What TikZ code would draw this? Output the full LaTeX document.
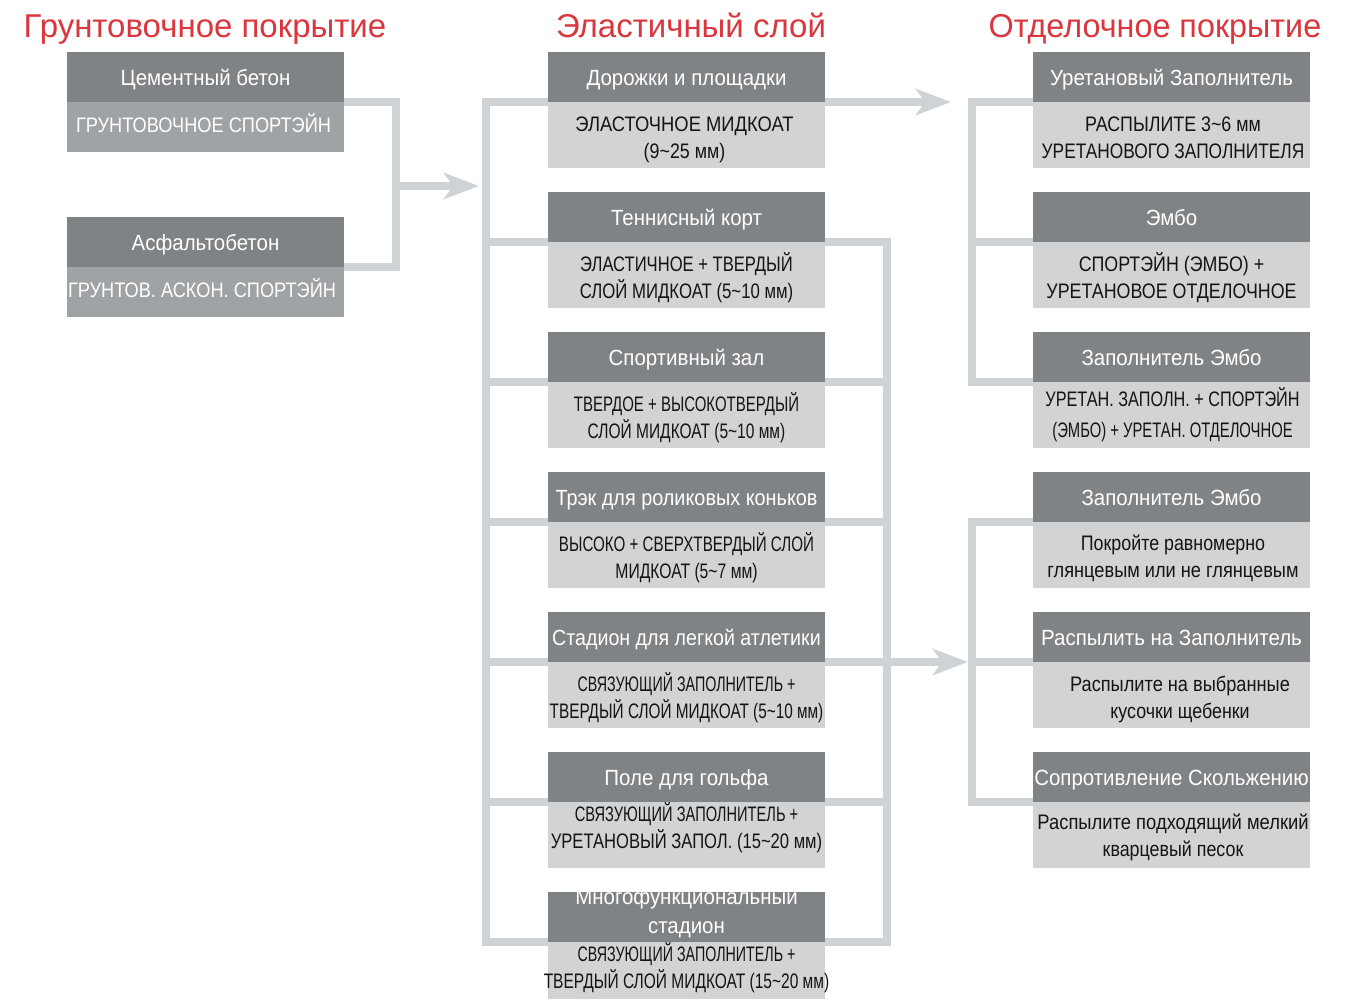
\documentclass[tikz,border=0pt]{standalone}
\usepackage{fontspec}
\usepackage{graphicx}
\setmainfont{Liberation Sans}
\newfontfamily\hdfont[FakeStretch=0.93]{Liberation Sans}
\newfontfamily\bdfont[FakeStretch=0.85]{Liberation Sans}
\usetikzlibrary{arrows.meta}
\definecolor{hdgray}{RGB}{128,131,134}
\definecolor{bodygray}{RGB}{209,211,213}
\definecolor{lbodygray}{RGB}{160,163,166}
\definecolor{lncol}{RGB}{208,211,214}
\definecolor{titlered}{RGB}{218,54,62}
\newcommand\sx[2]{\scalebox{#1}[1]{#2}}
\newcommand\hbx[1]{\makebox[277pt][c]{#1}}
\pgfdeclarelayer{background}
\pgfsetlayers{background,main}
\begin{document}
\begin{tikzpicture}[x=1pt,y=-1pt,
  hd/.style={rectangle, fill=hdgray, text=white, anchor=north west, minimum width=277pt, minimum height=50pt, inner sep=0pt, outer sep=0pt, text height=16pt, text depth=0pt, font=\hdfont\fontsize{22}{27}\selectfont},
  bdy/.style={rectangle, fill=bodygray, anchor=north west, minimum width=277pt, minimum height=66pt, inner sep=0pt, outer sep=0pt},
  lbdy/.style={bdy, fill=lbodygray, minimum height=50pt},
  btxt/.style={align=center, inner sep=0pt, text=black!92, font=\bdfont\fontsize{21}{27}\selectfont},
  ltxt/.style={btxt, text=white, anchor=base},
  ttl/.style={anchor=base, inner sep=0pt, text=titlered, font=\fontsize{33}{40}\selectfont},
  conn/.style={draw=lncol, line width=8pt},
  arr/.style={conn, -{Stealth[length=35pt,width=26pt,inset=9pt]}}
]
\useasboundingbox (0,0) rectangle (1357,999);

% titles
\node[ttl] (t1) at (205,37) {Грунтовочное покрытие};
\node[ttl] (t2) at (691,37) {Эластичный слой};
\node[ttl] (t3) at (1155,37) {\sx{0.98}{Отделочное покрытие}};

% left column
\node[hd] (hl1) at (67,52) {\hbx{Цементный бетон}};
\node[lbdy] (bl1) at (hl1.south west) {};
\node[ltxt] (tl1) at (203.5,132) {\sx{1.02}{ГРУНТОВОЧНОЕ СПОРТЭЙН}};
\node[hd] (hl2) at (67,217) {\hbx{Асфальтобетон}};
\node[lbdy] (bl2) at (hl2.south west) {};
\node[ltxt] (tl2) at (202,297) {\sx{1.02}{ГРУНТОВ. АСКОН. СПОРТЭЙН}};

% middle column
\node[hd] (hm1) at (548,52) {\hbx{Дорожки и площадки}};
\node[bdy] (bm1) at (hm1.south west) {};
\node[btxt] (tm1) at (684.5,140) {\sx{1.03}{ЭЛАСТОЧНОЕ МИДКОАТ}\\(9\textasciitilde25 мм)};
\node[hd] (hm2) at (548,192) {\hbx{Теннисный корт}};
\node[bdy] (bm2) at (hm2.south west) {};
\node[btxt] (tm2) at (686.5,278) {\sx{0.93}{ЭЛАСТИЧНОЕ + ТВЕРДЫЙ}\\\sx{0.94}{СЛОЙ МИДКОАТ (5\textasciitilde10 мм)}};
\node[hd] (hm3) at (548,332) {\hbx{Спортивный зал}};
\node[bdy] (bm3) at (hm3.south west) {};
\node[btxt] (tm3) at (686.5,418) {\sx{0.84}{ТВЕРДОЕ + ВЫСОКОТВЕРДЫЙ}\\\sx{0.87}{СЛОЙ МИДКОАТ (5\textasciitilde10 мм)}};
\node[hd] (hm4) at (548,472) {\hbx{\sx{0.97}{Трэк для роликовых коньков}}};
\node[bdy] (bm4) at (hm4.south west) {};
\node[btxt] (tm4) at (686.5,558) {\sx{0.85}{ВЫСОКО + СВЕРХТВЕРДЫЙ СЛОЙ}\\\sx{0.88}{МИДКОАТ (5\textasciitilde7 мм)}};
\node[hd] (hm5) at (548,612) {\hbx{\sx{0.96}{Стадион для легкой атлетики}}};
\node[bdy] (bm5) at (hm5.south west) {};
\node[btxt] (tm5) at (686.5,698) {\sx{0.8}{СВЯЗУЮЩИЙ ЗАПОЛНИТЕЛЬ +}\\\sx{0.86}{ТВЕРДЫЙ СЛОЙ МИДКОАТ (5\textasciitilde10 мм)}};
\node[hd] (hm6) at (548,752) {\hbx{Поле для гольфа}};
\node[bdy] (bm6) at (hm6.south west) {};
\node[btxt] (tm6) at (686.5,828) {\sx{0.82}{СВЯЗУЮЩИЙ ЗАПОЛНИТЕЛЬ +}\\\sx{0.93}{УРЕТАНОВЫЙ ЗАПОЛ. (15\textasciitilde20 мм)}};
\node[hd] (hm7) at (548,892) {};
\node[align=center, inner sep=0pt, text=white, font=\hdfont\fontsize{22}{29}\selectfont] (thm7) at (686.5,913) {Многофункциональный\\стадион};
\node[bdy, minimum height=57pt] (bm7) at (hm7.south west) {};
\node[btxt] (tm7) at (686.5,968) {\sx{0.8}{СВЯЗУЮЩИЙ ЗАПОЛНИТЕЛЬ +}\\\sx{0.87}{ТВЕРДЫЙ СЛОЙ МИДКОАТ (15\textasciitilde20 мм)}};

% right column
\node[hd] (hr1) at (1033,52) {\hbx{Уретановый Заполнитель}};
\node[bdy] (br1) at (hr1.south west) {};
\node[btxt] (tr1) at (1173,138) {РАСПЫЛИТЕ 3\textasciitilde6 мм\\\sx{0.97}{УРЕТАНОВОГО ЗАПОЛНИТЕЛЯ}};
\node[hd] (hr2) at (1033,192) {\hbx{Эмбо}};
\node[bdy] (br2) at (hr2.south west) {};
\node[btxt] (tr2) at (1171.5,278) {СПОРТЭЙН (ЭМБО) +\\УРЕТАНОВОЕ ОТДЕЛОЧНОЕ};
\node[hd] (hr3) at (1033,332) {\hbx{Заполнитель Эмбо}};
\node[bdy] (br3) at (hr3.south west) {};
\node[btxt, font=\bdfont\fontsize{21}{31}\selectfont] (tr3) at (1172.5,415) {\sx{0.91}{УРЕТАН. ЗАПОЛН. + СПОРТЭЙН}\\\sx{0.83}{(ЭМБО) + УРЕТАН. ОТДЕЛОЧНОЕ}};
\node[hd] (hr4) at (1033,472) {\hbx{Заполнитель Эмбо}};
\node[bdy] (br4) at (hr4.south west) {};
\node[btxt] (tr4) at (1173,558) {Покройте равномерно\\\sx{1.02}{глянцевым или не глянцевым}};
\node[hd] (hr5) at (1033,612) {\hbx{Распылить на Заполнитель}};
\node[bdy] (br5) at (hr5.south west) {};
\node[btxt] (tr5) at (1180,699) {\sx{1.02}{Распылите на выбранные}\\кусочки щебенки};
\node[hd] (hr6) at (1033,752) {\hbx{Сопротивление Скольжению}};
\node[bdy] (br6) at (hr6.south west) {};
\node[btxt] (tr6) at (1173,837) {\sx{1.03}{Распылите подходящий мелкий}\\кварцевый песок};

% connectors
\begin{pgfonlayer}{background}
\fill[white] (0,0) rectangle (1357,999);
\coordinate (lj) at (396,186);
\coordinate (mtip) at (479,186);
\draw[conn] (hl1.south east) -| (lj) |- (hl2.south east);
\draw[arr] (lj) -- (mtip);

\coordinate (mlb) at (486,942);
\draw[conn] (hm1.south west) -| (mlb) -- (hm7.south west);
\foreach \i in {2,...,6} \draw[conn] (hm\i.south west) -- (hm\i.south west -| mlb);
\coordinate (mrb) at (887,942);
\draw[conn] (hm2.south east) -| (mrb) -- (hm7.south east);
\foreach \i in {3,...,6} \draw[conn] (hm\i.south east) -- (hm\i.south east -| mrb);
\coordinate (rtipa) at (951,102);
\coordinate (rtipb) at (968,662);
\draw[arr] (hm1.south east) -- (rtipa);
\draw[arr] (hm5.south east -| mrb) -- (rtipb);

\coordinate (rba) at (972,382);
\draw[conn] (hr1.south west) -| (rba) -- (hr3.south west);
\draw[conn] (hr2.south west) -- (hr2.south west -| rba);
\coordinate (rbb) at (972,802);
\draw[conn] (hr4.south west) -| (rbb) -- (hr6.south west);
\draw[conn] (hr5.south west) -- (hr5.south west -| rbb);
\end{pgfonlayer}
\end{tikzpicture}
\end{document}
